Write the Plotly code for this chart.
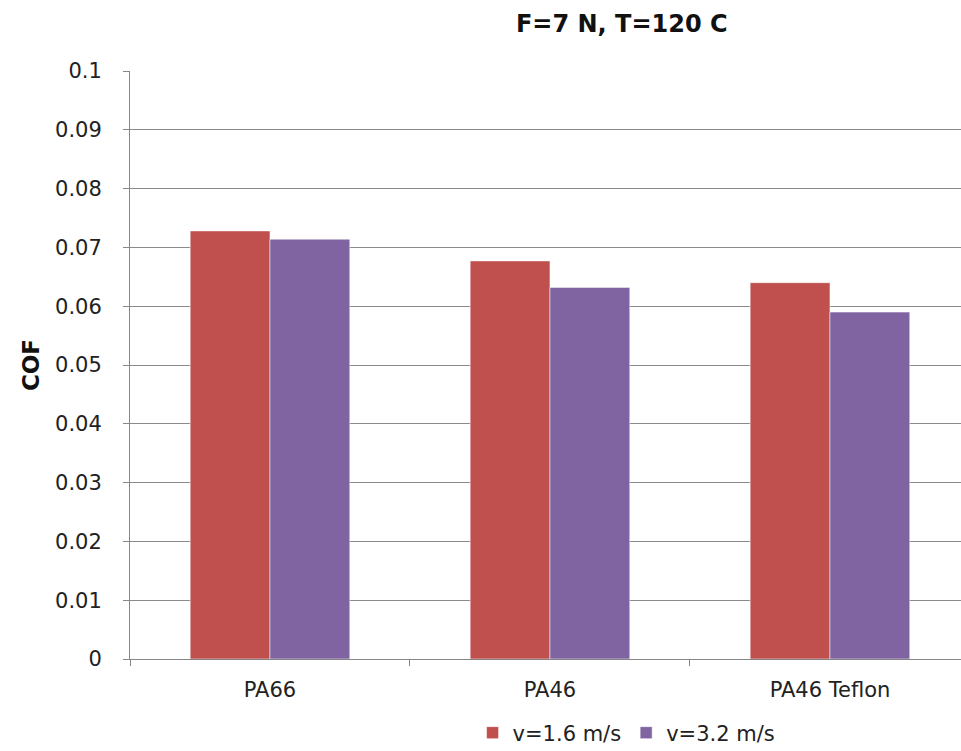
import plotly.graph_objects as go

# Coefficient of friction per material at two sliding speeds
materials = ["PA66", "PA46", "PA46 Teflon"]
cof_v16 = [0.0728, 0.0677, 0.0640]
cof_v32 = [0.0714, 0.0632, 0.0590]
series_names = ["v=1.6 m/s", "v=3.2 m/s"]
y_ticks = [0, 0.01, 0.02, 0.03, 0.04, 0.05, 0.06, 0.07, 0.08, 0.09, 0.1]
y_tick_text = ["0", "0.01", "0.02", "0.03", "0.04", "0.05", "0.06", "0.07", "0.08", "0.09", "0.1"]

RED = "#C0504D"
PURPLE = "#8064A2"
FONT = "'DejaVu Sans', sans-serif"
AXIS_GREY = "#868686"

fig = go.Figure()
fig.add_trace(go.Bar(
    x=materials, y=cof_v16, name=series_names[0],
    marker=dict(color=RED, line=dict(color="rgba(255,255,255,0.5)", width=1)),
))
fig.add_trace(go.Bar(
    x=materials, y=cof_v32, name=series_names[1],
    marker=dict(color=PURPLE, line=dict(color="rgba(255,255,255,0.5)", width=1)),
))

fig.update_layout(
    width=961, height=751,
    margin=dict(l=130, r=0, t=71, b=92, pad=0, autoexpand=False),
    paper_bgcolor="white", plot_bgcolor="white",
    barmode="group", bargap=0.43, bargroupgap=0,
    font=dict(family=FONT, size=21, color="#222222"),
    title=dict(
        text="<b>F=7 N, T=120 C</b>",
        x=0.647, xanchor="center", y=0.968, yanchor="middle",
        font=dict(family=FONT, size=24, color="#111111"),
    ),
    legend=dict(
        orientation="h", x=0.652, xref="container", xanchor="center",
        y=0.024, yref="container", yanchor="middle",
        font=dict(family=FONT, size=21, color="#222222"),
        itemwidth=30, traceorder="normal",
    ),
    xaxis=dict(
        type="category", range=[-0.5, 2.468], automargin=False,
        showline=True, linecolor=AXIS_GREY, linewidth=1,
        ticks="outside", tickson="boundaries", ticklen=6, tickcolor=AXIS_GREY,
        showgrid=False, tickfont=dict(size=21), ticklabelstandoff=12,
    ),
    yaxis=dict(
        range=[0, 0.1], tickvals=y_ticks, ticktext=y_tick_text, automargin=False,
        showline=True, linecolor=AXIS_GREY, linewidth=1,
        ticks="outside", ticklen=6, tickcolor=AXIS_GREY,
        showgrid=True, gridcolor="#8a8a8a", gridwidth=1,
        zeroline=False, tickfont=dict(size=21), ticklabelstandoff=17,
        title=dict(text="<b>COF</b>", font=dict(family=FONT, size=23, color="#111111"), standoff=8),
    ),
)

fig.write_html("out.html")
